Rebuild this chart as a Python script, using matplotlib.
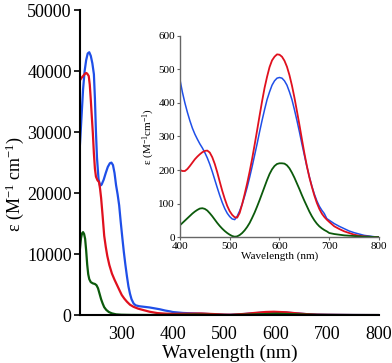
import matplotlib
matplotlib.use("Agg")
import matplotlib.pyplot as plt

plt.rcParams['font.family'] = ['Liberation Serif', 'DejaVu Serif']
plt.rcParams['mathtext.fontset'] = 'custom'
plt.rcParams['mathtext.rm'] = 'Liberation Serif'
plt.rcParams['mathtext.it'] = 'Liberation Serif:italic'

# Espectro completo (nm, epsilon)
nm_azul = [220, 223, 226, 229, 232, 235, 238, 241, 244, 247, 249, 251, 253, 256, 259, 262, 266,
           270, 274, 278, 281, 284, 287, 290, 293, 296, 299, 302, 305, 308, 311, 314, 317, 320,
           324, 328, 335, 345, 355, 365, 375, 385, 395, 400, 420, 440, 460, 480, 500, 510, 530,
           560, 580, 598, 620, 640, 660, 680, 700, 750, 800]
eps_azul = [28000, 32500, 37000, 40000, 41800, 42900, 43100, 42500, 41300, 39500, 35500, 30000,
            25800, 22300, 21200, 21400, 22200, 23300, 24300, 24900, 25000, 24600, 23300, 21300,
            19800, 18000, 15300, 12800, 10400, 8300, 6400, 4700, 3500, 2600, 1900, 1600, 1450,
            1350, 1250, 1100, 950, 750, 600, 500, 347, 278, 217, 124, 61, 52, 122, 314, 433, 475,
            410, 278, 152, 80, 50, 13, 0]

nm_rojo = [220, 223, 227, 230, 232, 234, 237, 239, 241, 243, 245, 247, 249, 251, 254, 257, 259,
           261, 264, 267, 270, 273, 277, 282, 287, 292, 297, 301, 306, 311, 317, 324, 333, 343,
           355, 370, 385, 400, 430, 455, 480, 500, 513, 540, 560, 580, 596, 620, 640, 660, 680,
           700, 750, 800]
eps_rojo = [38500, 38900, 39300, 39600, 39700, 39600, 39200, 37800, 35300, 32500, 29800, 26500,
            24000, 22700, 22100, 21800, 20700, 19200, 16200, 13000, 11200, 9700, 8200, 6800,
            5800, 4900, 4000, 3300, 2700, 2200, 1700, 1350, 1050, 820, 550, 330, 240, 200, 232,
            258, 165, 77, 57, 195, 362, 507, 545, 458, 292, 150, 68, 42, 7, 0]

nm_verde = [220, 222, 224, 226, 228, 230, 232, 234, 236, 238, 241, 245, 249, 252, 255, 258, 261,
            264, 267, 271, 276, 282, 290, 300, 320, 350, 400, 445, 480, 510, 560, 602, 640, 680,
            720, 800]
eps_verde = [10900, 12600, 13400, 13600, 13300, 12500, 10600, 8300, 6700, 5900, 5400, 5200, 5100,
             4900, 4400, 3500, 2600, 1900, 1300, 850, 500, 280, 120, 60, 25, 15, 35, 86, 33, 1,
             110, 220, 125, 26, 7, 0]

# Ampliacion visible (400-800 nm)
nm_ins = list(range(400, 705, 5)) + [710, 720, 730, 740, 750, 760, 770, 780, 790, 800]
ins_azul = [470, 432, 400, 372, 347, 325, 307, 292, 278, 266, 252, 236, 217, 195, 171, 147,
            124, 103, 85, 71, 61, 54, 52, 62, 78, 98, 122, 148, 178, 210, 244, 278, 314, 348,
            380, 410, 433, 453, 466, 474, 476, 474, 466, 453, 433, 410, 380, 348, 314, 278, 244,
            210, 180, 152, 128, 108, 92, 80, 70, 55, 50,
            40, 32, 25, 18, 13, 9, 5, 3, 1, 0]
ins_rojo = [200, 197, 197, 203, 212, 222, 232, 240, 247, 253, 257, 258, 252, 238, 218, 193,
            165, 138, 114, 93, 77, 66, 59, 58, 72, 98, 128, 160, 195, 233, 275, 318, 362, 405,
            445, 478, 507, 527, 538, 545, 544, 538, 526, 508, 483, 452, 416, 376, 335, 292, 250,
            212, 178, 150, 124, 102, 84, 70, 60, 52, 45,
            32, 24, 17, 12, 7, 4, 2, 1, 0, 0]
ins_verde = [35, 42, 49, 56, 63, 70, 76, 81, 85, 86, 84, 79, 71, 62, 52, 42, 33, 25, 18, 12, 7,
             3, 1, 2, 6, 12, 20, 30, 42, 57, 73, 91, 110, 130, 150, 170, 188, 202, 212, 218, 220,
             220, 219, 214, 205, 192, 177, 160, 143, 125, 108, 92, 76, 62, 50, 40, 32, 26, 21,
             17, 12,
             9, 7, 5, 4, 3, 2, 1, 1, 0, 0]

azul = '#1f4fe8'
rojo = '#e0101e'
verde = '#0b5a0b'

fig = plt.figure(figsize=(3.92, 3.63), dpi=100)
ax = fig.add_axes([0.204, 0.132, 0.763, 0.840])
ax.plot(nm_azul, eps_azul, color=azul, lw=1.6)
ax.plot(nm_rojo, eps_rojo, color=rojo, lw=1.6)
ax.plot(nm_verde, eps_verde, color=verde, lw=1.6)
ax.set_xlim(220, 800)
ax.set_ylim(0, 50000)
ax.set_xticks([300, 400, 500, 600, 700, 800])
ax.set_yticks([0, 10000, 20000, 30000, 40000, 50000])
ax.spines['top'].set_visible(False)
ax.spines['right'].set_visible(False)
ax.spines['left'].set_linewidth(1.5)
ax.spines['bottom'].set_linewidth(1.5)
ax.tick_params(axis='x', length=0, labelsize=13, pad=8)
ax.tick_params(axis='y', length=4, width=1.2, labelsize=13, pad=2)
ax.set_xlabel('Wavelength (nm)', fontsize=14, labelpad=1)
ax.set_ylabel('ε (M$^{-1}$ cm$^{-1}$)', fontsize=13)
ax.yaxis.set_label_coords(-0.18, 0.43)

ins = fig.add_axes([0.459, 0.347, 0.508, 0.554])
ins.plot(nm_ins, ins_azul, color=azul, lw=1.1)
ins.plot(nm_ins, ins_rojo, color=rojo, lw=1.3)
ins.plot(nm_ins, ins_verde, color=verde, lw=1.3)
ins.set_xlim(400, 800)
ins.set_ylim(0, 600)
ins.set_xticks([400, 500, 600, 700, 800])
ins.set_yticks([0, 100, 200, 300, 400, 500, 600])
ins.patch.set_alpha(0)
ins.spines['top'].set_visible(False)
ins.spines['right'].set_visible(False)
for s in ['left', 'bottom']:
    ins.spines[s].set_color('#666666')
    ins.spines[s].set_linewidth(1.0)
ins.tick_params(axis='both', length=2.5, width=0.8, color='#666666', labelsize=8, pad=1)
ins.set_xlabel('Wavelength (nm)', fontsize=8, labelpad=0)
ins.set_ylabel('ε (M$^{-1}$cm$^{-1}$)', fontsize=8, labelpad=1)

fig.savefig('out.png', dpi=100)
